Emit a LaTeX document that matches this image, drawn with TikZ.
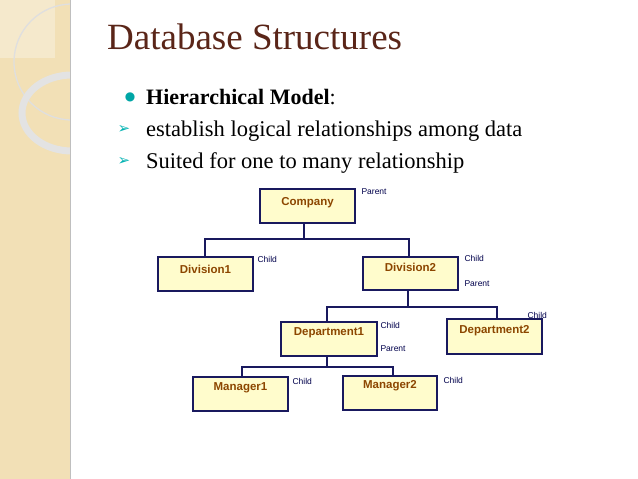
\documentclass[tikz,border=0pt]{standalone}
\usepackage{fontspec}
\setmainfont{Liberation Serif}
\newfontfamily\arialf{Liberation Sans}
\newfontfamily\djv{DejaVu Sans}
\definecolor{panel}{HTML}{F2E0B6}
\definecolor{ttl}{HTML}{5A2518}
\begin{document}
\begin{tikzpicture}[x=1pt,y=-1pt,
  bx/.style={draw=blue!30!black!90,line width=2.2pt,fill=yellow!20!white},
  bt/.style={font=\arialf\bfseries\fontsize{11.5}{14}\selectfont,text=orange!55!black},
  lb/.style={font=\arialf\fontsize{8.5}{10}\selectfont,text=blue!30!black,anchor=west},
  ln/.style={draw=blue!30!black!90,line width=2.2pt}]
\useasboundingbox (0,0) rectangle (638,479);
\fill[white] (0,0) rectangle (638,479);
\fill[panel] (0,0) rectangle (70,479);
\begin{scope}
\clip (0,0) rectangle (70,479);
\fill[white,opacity=0.3] (0,0) rectangle (55,58);
\draw[white!75!gray,line width=1.3pt] (72,62) circle[radius=58];
\draw[gray!22,line width=7pt] (72,113) circle[x radius=50,y radius=38];
\end{scope}
\draw[gray!50,line width=0.8pt] (70,0) -- (70,479);
% title
\node[anchor=base west,inner sep=0,font=\fontsize{37}{40}\selectfont,text=ttl] (title) at (107,49) {Database Structures};
\node[text=teal!70!cyan,font=\djv\fontsize{12}{12}\selectfont,inner sep=0] (d1) at (130,97) {●};
\node[anchor=base west,inner sep=0,font=\fontsize{22}{24}\selectfont] (t1) at (146,104) {\textbf{Hierarchical Model}:};
\node[text=teal!60!cyan,font=\djv\fontsize{15}{16}\selectfont,inner sep=0] (a1) at (124,129) {➢};
\node[anchor=base west,inner sep=0,font=\fontsize{22.5}{24}\selectfont] (t2) at (146,136) {establish logical relationships among data};
\node[text=teal!60!cyan,font=\djv\fontsize{15}{16}\selectfont,inner sep=0] (a2) at (124,161) {➢};
\node[anchor=base west,inner sep=0,font=\fontsize{22.5}{24}\selectfont] (t3) at (146,168) {Suited for one to many relationship};
% boxes
\path[bx] (260,189) rectangle (355,223); \node[bt] (comp) at (307.5,203) {Company};
\path[bx] (158,257) rectangle (253,291); \node[bt] (div1) at (205.5,269) {Division1};
\path[bx] (363,257) rectangle (458,290); \node[bt] (div2) at (410.5,267) {Division2};
\path[bx] (281,322) rectangle (377,356); \node[bt] (dep1) at (329,333) {Department1};
\path[bx] (447,319) rectangle (542,354); \node[bt] (dep2) at (494.5,331) {Department2};
\path[bx] (193,377) rectangle (288,411); \node[bt] (man1) at (240.5,388) {Manager1};
\path[bx] (343,376) rectangle (437,410); \node[bt] (man2) at (390,386) {Manager2};
% connectors
\coordinate (c0) at (304,223); \coordinate (c1) at (304,239);
\draw[ln] (c0) -- (c1);
\draw[ln] (205,257) -- (205,239) -- (409,239) -- (409,257);
\draw[ln] (408,290) -- (408,307);
\draw[ln] (327,322) -- (327,307) -- (497,307) -- (497,319);
\draw[ln] (327,356) -- (327,367);
\draw[ln] (242,377) -- (242,367) -- (393,367) -- (393,376);
% labels
\node[lb] at (358,192) {Parent};
\node[lb] at (254,259) {Child};
\node[lb] at (461,258) {Child};
\node[lb] at (461,284) {Parent};
\node[lb] at (524,315) {Child};
\node[lb] at (377,325) {Child};
\node[lb] at (377,349) {Parent};
\node[lb] at (289,381) {Child};
\node[lb] at (440,380) {Child};
\end{tikzpicture}
\end{document}
